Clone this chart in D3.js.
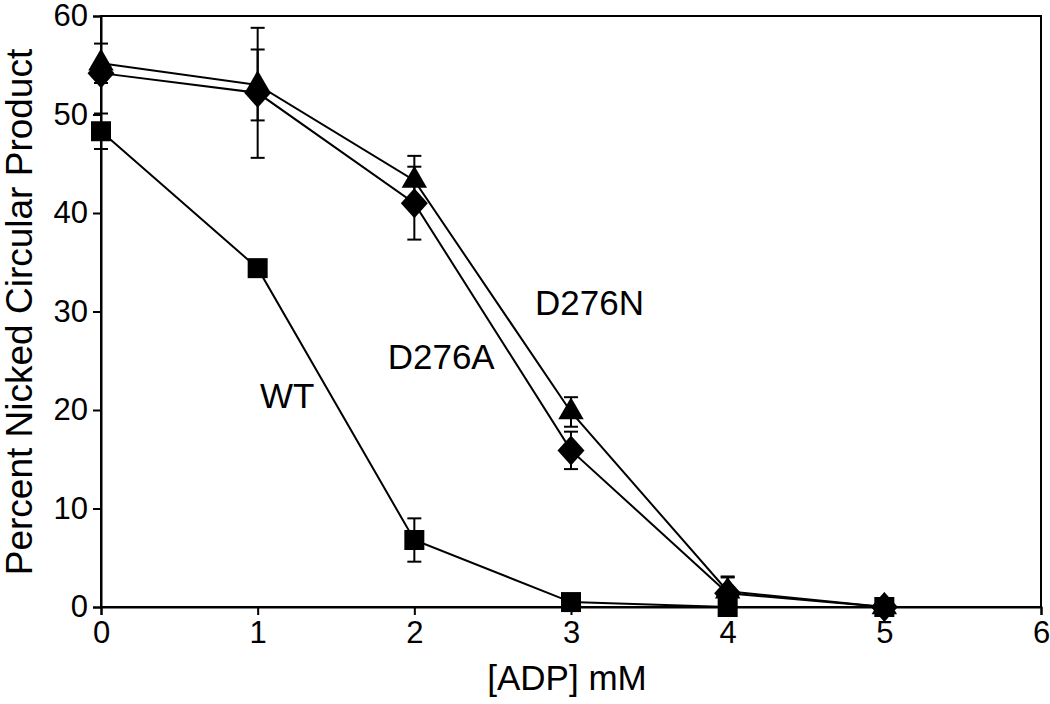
<!DOCTYPE html>
<html><head><meta charset="utf-8">
<script src="https://cdn.jsdelivr.net/npm/d3@7"></script>
<style>body{margin:0;background:#fff}svg{font-family:"Liberation Sans",Arial,sans-serif}</style>
</head><body><svg id="c" width="1050" height="704"></svg>
<script>
const adp = [0, 1, 2, 3, 4, 5];
const wtVals = [48.3, 34.4, 6.8, 0.5, 0, 0];
const wtErr = [1.8, 0, 2.2, 0, 0, 0];
const d276aVals = [54.2, 52.2, 41.0, 15.9, 1.4, 0];
const d276aErr = [0, 6.6, 3.7, 1.9, 1.6, 0];
const d276nVals = [55.2, 53.0, 43.3, 19.8, 1.6, 0];
const d276nErr = [2.0, 3.6, 2.5, 1.5, 1.5, 0];
const xTicks = [0, 1, 2, 3, 4, 5, 6];
const yTicks = [0, 10, 20, 30, 40, 50, 60];

const svg = d3.select("#c");
const m = {l: 101, r: 1041, t: 16, b: 607};
const x = d3.scaleLinear().domain([0, 6]).range([m.l, m.r]);
const y = d3.scaleLinear().domain([0, 60]).range([m.b, m.t]);

svg.append("rect").attr("x", m.l).attr("y", m.t).attr("width", m.r - m.l).attr("height", m.b - m.t)
  .attr("fill", "none").attr("stroke", "#000").attr("stroke-width", 2);

const xa = svg.append("g").attr("transform", `translate(0,${m.b})`)
  .call(d3.axisBottom(x).tickValues(xTicks).tickSize(8).tickPadding(6).tickFormat(d3.format("d")));
const ya = svg.append("g").attr("transform", `translate(${m.l},0)`)
  .call(d3.axisLeft(y).tickValues(yTicks).tickSize(8).tickPadding(5).tickFormat(d3.format("d")));
[xa, ya].forEach(a => {
  a.select(".domain").attr("stroke-width", 2);
  a.selectAll(".tick line").attr("stroke-width", 2);
  a.selectAll(".tick text").attr("font-size", 31).attr("font-family", "Liberation Sans, Arial, sans-serif").attr("fill", "#000");
});

svg.append("text").attr("x", 567).attr("y", 690).attr("text-anchor", "middle")
  .attr("font-size", 35).text("[ADP] mM");
svg.append("text").attr("transform", `translate(32,${312}) rotate(-90)`)
  .attr("text-anchor", "middle").attr("font-size", 37).text("Percent Nicked Circular Product");

const diamond = {draw(ctx, size) { const w = 13.5, h = 15; ctx.moveTo(0, -h); ctx.lineTo(w, 0); ctx.lineTo(0, h); ctx.lineTo(-w, 0); ctx.closePath(); }};

const series = [
  {vals: d276nVals, err: d276nErr, sym: d3.symbolTriangle, size: 280},
  {vals: d276aVals, err: d276aErr, sym: diamond, size: 1},
  {vals: wtVals, err: wtErr, sym: d3.symbolSquare, size: 400}
];

const line = d3.line().x((d, i) => x(adp[i])).y(d => y(d));
series.forEach(s => {
  svg.append("path").attr("d", line(s.vals)).attr("fill", "none").attr("stroke", "#000").attr("stroke-width", 2);
});
series.forEach(s => {
  const g = svg.append("g");
  s.vals.forEach((v, i) => {
    const e = s.err[i];
    if (e > 0) {
      const cx = x(adp[i]);
      g.append("line").attr("x1", cx).attr("x2", cx).attr("y1", y(v + e)).attr("y2", y(v - e)).attr("stroke", "#000").attr("stroke-width", 2);
      [v + e, v - e].forEach(c => g.append("line").attr("x1", cx - 7).attr("x2", cx + 7).attr("y1", y(c)).attr("y2", y(c)).attr("stroke", "#000").attr("stroke-width", 2));
    }
  });
});
series.forEach(s => {
  svg.append("g").selectAll("path").data(s.vals).join("path")
    .attr("transform", (d, i) => `translate(${x(adp[i])},${y(d)})`)
    .attr("d", d3.symbol().type(s.sym).size(s.size)).attr("fill", "#000");
});

const labels = [
  {t: "WT", xv: 1.015, yv: 20.2},
  {t: "D276A", xv: 1.83, yv: 24.2},
  {t: "D276N", xv: 2.77, yv: 29.6}
];
svg.selectAll(".lbl").data(labels).join("text").attr("class", "lbl")
  .attr("x", d => x(d.xv)).attr("y", d => y(d.yv)).attr("font-size", 35).text(d => d.t);
</script></body></html>
